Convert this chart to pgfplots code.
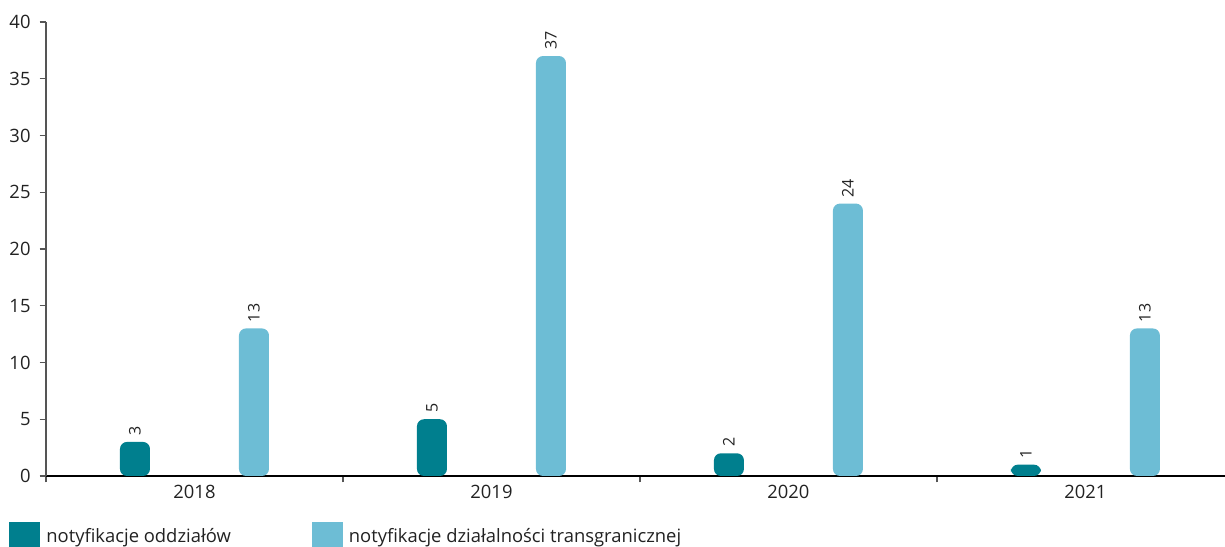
\documentclass[border=0pt]{standalone}
\usepackage{fontspec}
\setmainfont{Open Sans}
\usepackage{pgfplots}
\pgfplotsset{compat=1.18}
\definecolor{darkteal}{HTML}{007F8E}
\definecolor{lightblue}{HTML}{6DBDD5}
\definecolor{axisgray}{HTML}{555555}
\definecolor{txt}{HTML}{222222}
\begin{document}
\begin{tikzpicture}
\begin{axis}[
  name=ax,
  scale only axis, width=589.5pt, height=227pt,
  xmin=-0.5, xmax=3.47, ymin=0, ymax=40,
  axis x line*=bottom, axis y line*=left,
  x axis line style={black, line width=0.8pt},
  y axis line style={axisgray, line width=0.8pt},
  ytick={0,5,...,40},
  xtick={-0.5,0.5,1.5,2.5}, xticklabels={},
  extra x ticks={0,1,2,3}, extra x tick labels={2018,2019,2020,2021},
  extra x tick style={major tick length=0pt},
  tick align=outside, major tick length=3.2pt,
  tick style={axisgray, line width=0.7pt},
  ticklabel style={font=\fontsize{9.2}{11}\selectfont, text=txt},
  /pgf/number format/assume math mode=true,
  yticklabel style={xshift=-1pt},
  xticklabel style={yshift=-1pt},
  ybar, bar width=15pt,
  nodes near coords,
  nodes near coords style={rotate=90, anchor=west, inner sep=3pt,
     font=\fontsize{8}{10}\selectfont, text=txt},
  legend columns=2,
  legend cell align=left,
  legend style={at={(axis description cs:-0.0314,-0.1362)}, anchor=west, draw=none,
     inner sep=0pt, font=\fontsize{9.2}{11}\selectfont, text=txt,
     /tikz/every even column/.append style={column sep=38.5pt}},
  legend image code/.code={\path (0pt,0pt) (16.5pt,0pt);\fill[#1, sharp corners] (0pt,-8.25pt) rectangle (15.5pt,7.25pt);},
  clip=false,
]
\addplot[fill=darkteal, draw=none, rounded corners=3.5pt, bar shift=-29.75pt]
  coordinates {(0,3) (1,5) (2,2) (3,1)};
\addlegendentry{notyfikacje oddziałów}
\addplot[fill=lightblue, draw=none, rounded corners=3.5pt, bar shift=29.75pt]
  coordinates {(0,13) (1,37) (2,24) (3,13)};
\addlegendentry{notyfikacje działalności transgranicznej}
\end{axis}
\pgfresetboundingbox
\path[use as bounding box] ([shift={(-23pt,-35.5pt)}]ax.south west) rectangle ([shift={(0pt,11pt)}]ax.north east);
\end{tikzpicture}
\end{document}
